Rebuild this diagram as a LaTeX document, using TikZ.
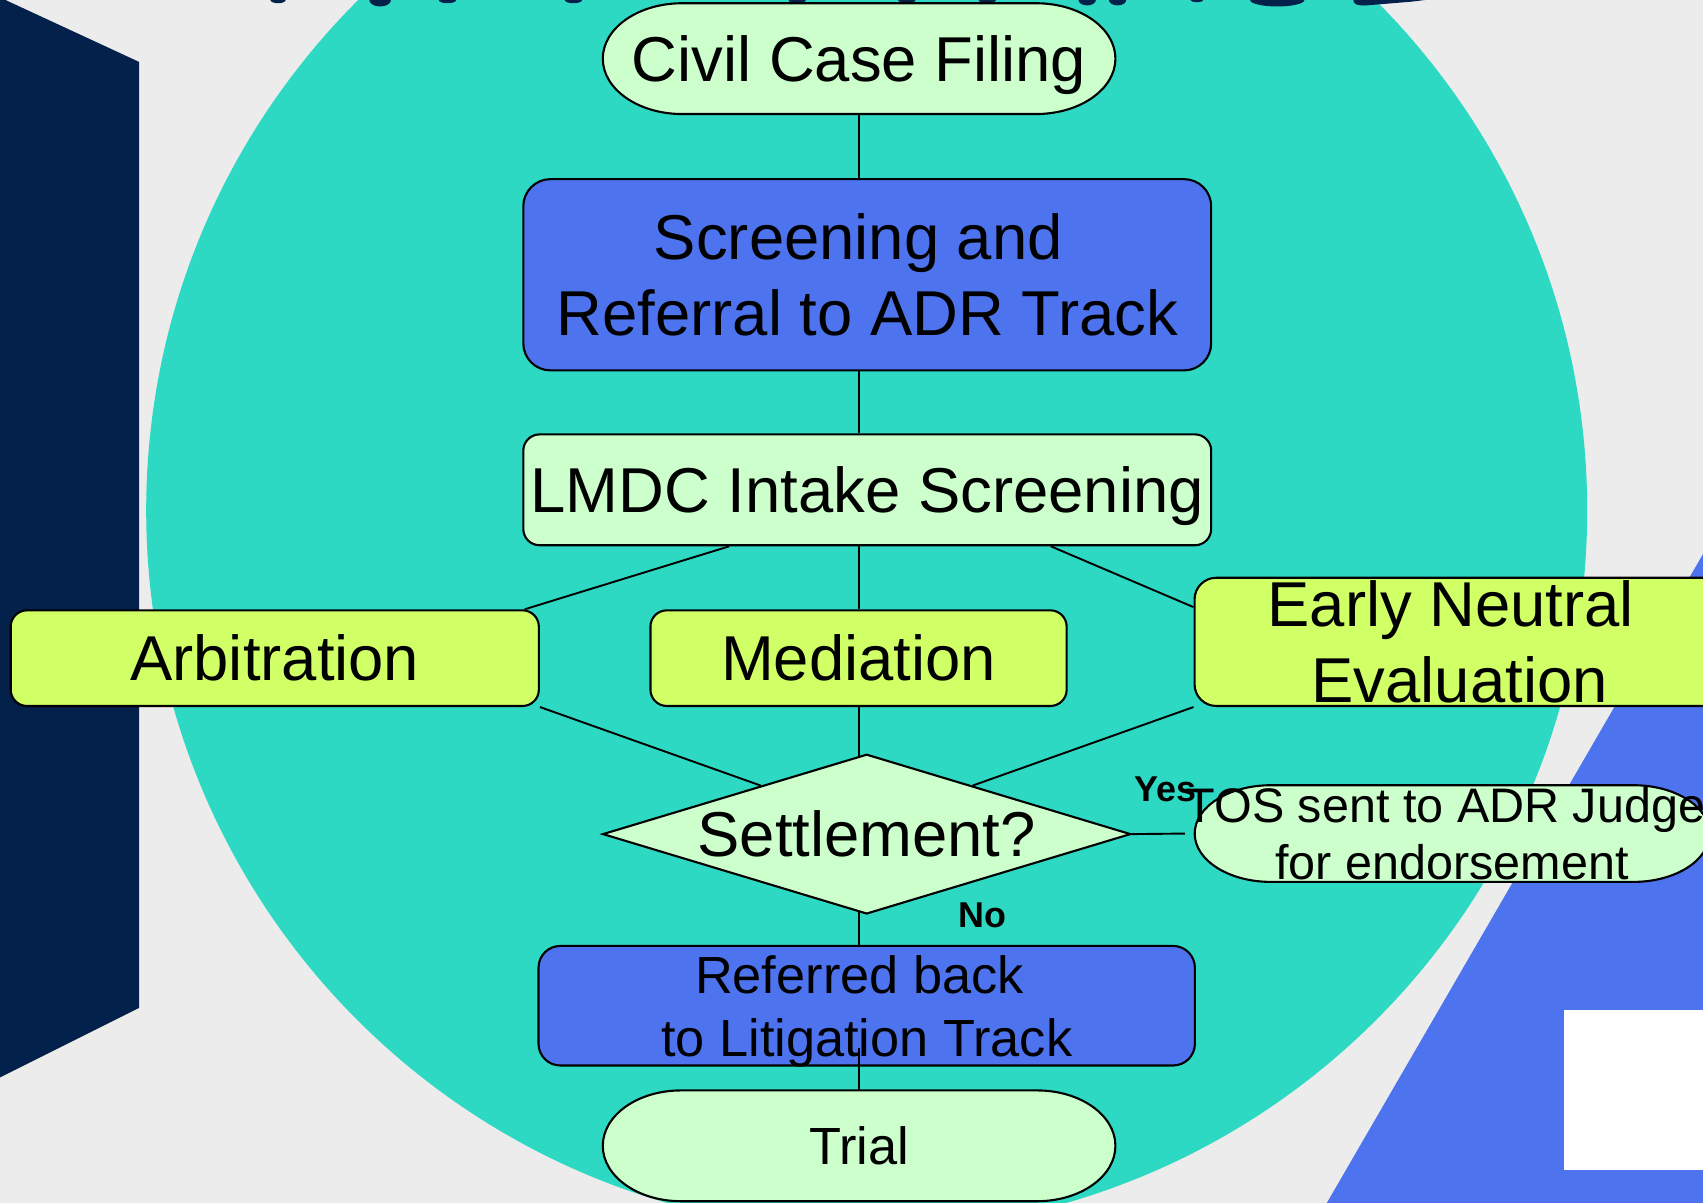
\documentclass[tikz,border=0pt]{standalone}
\usepackage{fontspec}
\setmainfont{Liberation Sans}
\usetikzlibrary{shapes.geometric,calc}
\definecolor{bgc}{HTML}{ECECEC}
\definecolor{navyc}{HTML}{03214A}
\definecolor{tealc}{HTML}{2ED9C4}
\definecolor{palec}{HTML}{CCFFCC}
\definecolor{limec}{HTML}{D1FF66}
\definecolor{bluec}{HTML}{4D73EE}
\newcommand{\nodep}[1]{\raisebox{0pt}[\height][0pt]{#1}}
% elliptic-ended stadium: cx, cy, half width, half height, end x-radius, fill colour
\newcommand{\estad}[6]{%
  \filldraw[fill=#6, draw=black, line width=0.55pt]
    (#1-#3+#5,#2-#4) -- (#1+#3-#5,#2-#4)
    arc[start angle=90, end angle=-90, x radius=#5*0.01cm, y radius=#4*0.01cm]
    -- (#1-#3+#5,#2+#4)
    arc[start angle=270, end angle=90, x radius=#5*0.01cm, y radius=#4*0.01cm]
    -- cycle;}
\tikzset{
  box/.style={draw=black, line width=0.55pt, inner sep=0pt, align=center, rectangle},
  plain/.style={inner sep=0pt, align=center, rectangle},
  bigtext/.style={font=\fontsize{16.6}{19.9}\selectfont},
  midtext/.style={font=\fontsize{13.7}{16.5}\selectfont},
  tostext/.style={font=\fontsize{12.7}{15.1}\selectfont},
  lbl/.style={font=\fontsize{9.4}{11}\selectfont\bfseries, inner sep=0pt},
  conn/.style={draw=black, line width=0.5pt},
}
\begin{document}
\begin{tikzpicture}[x=0.01cm,y=-0.01cm]
\useasboundingbox (0,0) rectangle (1568,1107);
\clip (0,0) rectangle (1568,1107);
% background
\fill[bgc] (-10,-10) rectangle (1600,1120);
\fill[navyc] (-10,-10) -- (0,-10) -- (5,0) -- (128,57) -- (128,928) -- (0,992) -- (-10,997) -- cycle;
\fill[tealc] (798,470) circle [radius=6.63cm];
\fill[bluec] (1222,1107) -- (1600,455) -- (1600,1120) -- (1215,1120) -- cycle;
\fill[white] (1440,930) rectangle (1600,1077);
% title fragments at the top edge
\fill[navyc] (256,0) ellipse [x radius=0.07cm, y radius=0.03cm];
\fill[navyc] (350,0) ellipse [x radius=0.10cm, y radius=0.06cm];
\fill[navyc] (412,0) ellipse [x radius=0.08cm, y radius=0.03cm];
\fill[navyc] (528,0) ellipse [x radius=0.08cm, y radius=0.03cm];
\fill[navyc] (734,0) ellipse [x radius=0.08cm, y radius=0.03cm];
\fill[navyc] (835,0) ellipse [x radius=0.08cm, y radius=0.03cm];
\fill[navyc] (909,0) ellipse [x radius=0.08cm, y radius=0.03cm];
\fill[navyc] (1001,0) ellipse [x radius=0.08cm, y radius=0.05cm];
\fill[navyc] (1029,0) ellipse [x radius=0.08cm, y radius=0.05cm];
\fill[navyc] (1102,0) ellipse [x radius=0.06cm, y radius=0.02cm];
\fill[navyc] (1176,0) ellipse [x radius=0.25cm, y radius=0.06cm];
\fill[navyc] (1246,0) -- (1312,0) -- (1300,1.5) -- (1258,5) .. controls (1250,5.5) and (1246,4) .. (1246,0) -- cycle;
% stadium outlines
\estad{791}{54}{236}{51}{73}{palec}
\estad{1337}{767.5}{237}{44.5}{70}{palec}
\estad{791}{1055}{236}{51}{72}{palec}
% nodes
\node[plain, bigtext, minimum width=4.72cm, minimum height=1.02cm] (civil) at (791,54) {\nodep{Civil Case Filing}};
\node[box, bigtext, fill=bluec, minimum width=6.33cm, minimum height=1.76cm, rounded corners=0.25cm] (screen) at (798.5,253) {Screening and\kern0.278em\\Referral to ADR Track};
\node[box, bigtext, fill=palec, minimum width=6.33cm, minimum height=1.02cm, rounded corners=0.15cm] (lmdc) at (798.5,451) {\nodep{LMDC Intake Screening}};
\node[box, bigtext, fill=limec, minimum width=4.86cm, minimum height=0.88cm, rounded corners=0.15cm] (arb) at (253,606) {Arbitration};
\node[box, bigtext, fill=limec, minimum width=3.83cm, minimum height=0.88cm, rounded corners=0.15cm] (med) at (790.5,606) {Mediation};
\node[box, bigtext, fill=limec, minimum width=4.88cm, minimum height=1.18cm, rounded corners=0.2cm] (ene) at (1344,591) {Early Neutral\kern0.278em\\\nodep{Evaluation}};
\node[draw=black, line width=0.55pt, fill=palec, diamond, inner sep=0pt, aspect=3.3, minimum width=4.86cm, minimum height=1.47cm, bigtext] (dia) at (798,768) {Settlement?};
\node[plain, tostext, minimum width=4.74cm, minimum height=0.89cm] (tos) at (1337,767.5) {TOS sent to ADR Judge\kern0.278em\\for endorsement};
\node[box, midtext, fill=bluec, minimum width=6.04cm, minimum height=1.10cm, rounded corners=0.2cm] (ref) at (798,926) {Referred back\kern0.278em\\\nodep{to Litigation Track}};
\node[plain, midtext, minimum width=4.72cm, minimum height=1.02cm] (trial) at (791,1055) {Trial};
% labels
\node[lbl] (yes) at (1073,727) {Yes};
\node[lbl] (no) at (905,843) {No};
% connectors
\draw[conn] (civil.south) -- (civil.south |- screen.north);
\draw[conn] (civil.south |- screen.south) -- (civil.south |- lmdc.north);
\draw[conn] ($(lmdc.south west)!0.3!(lmdc.south east)$) -- ([xshift=-0.14cm]arb.north east);
\draw[conn] (civil.south |- lmdc.south) -- (civil.south |- med.north);
\draw[conn] ($(lmdc.south west)!0.766!(lmdc.south east)$) -- ([yshift=-0.28cm]ene.north west);
\draw[conn] (arb.south east) -- ($(dia.west)!0.6!(dia.north)$);
\draw[conn] (med.south) -- ++(0,45);
\draw[conn] (ene.south west) -- ($(dia.north)!0.4!(dia.east)$);
\draw[conn] (dia.east) -- (tos.west);
\coordinate (dsouth) at (791,839);
\draw[conn] (dsouth) -- (dsouth |- ref.north);
\coordinate (refmid) at (791,965);
\draw[conn] (refmid) -- (refmid |- trial.north);
\end{tikzpicture}
\end{document}
